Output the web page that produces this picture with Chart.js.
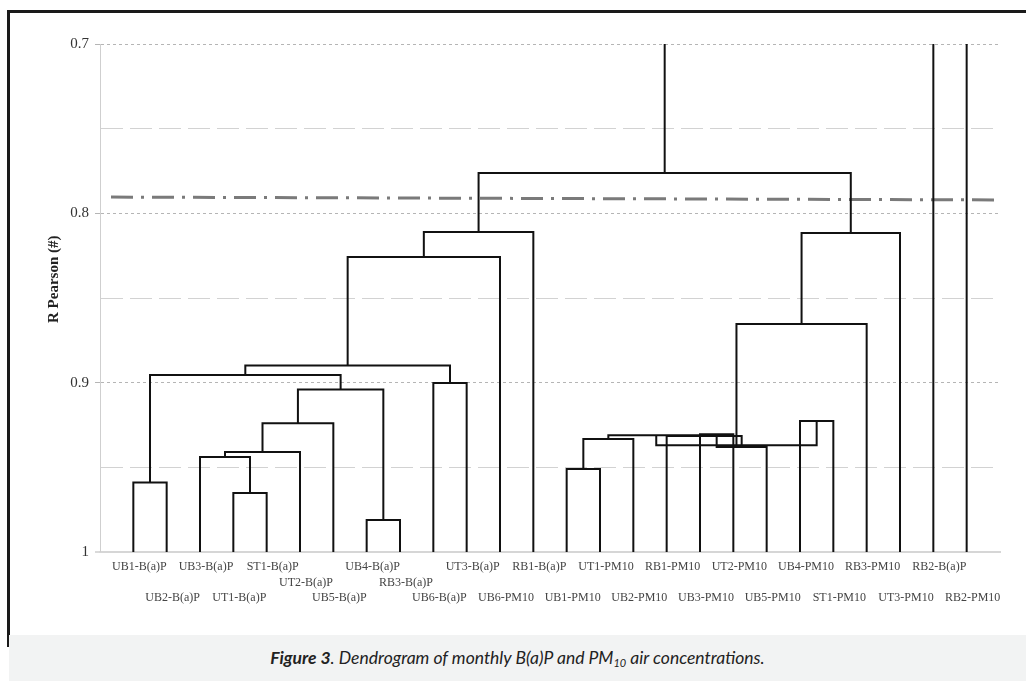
<!DOCTYPE html>
<html>
<head>
<meta charset="utf-8">
<script src="https://cdn.jsdelivr.net/npm/chart.js@4.4.0/dist/chart.umd.min.js"></script>
<style>
  html, body { margin: 0; padding: 0; background: #fff; }
  body { width: 1026px; height: 681px; position: relative; overflow: hidden; }
  #chart { position: absolute; left: 0; top: 0; }
  #frame { position: absolute; left: 7px; top: 10px; width: 1019px; height: 637px;
    border-top: 3px solid #1a1a1a; border-left: 3px solid #1a1a1a; box-sizing: border-box; }
  #caption { position: absolute; left: 9px; top: 635px; width: 1017px; height: 46px;
    background: #f2f3f3; color: #222; text-align: center;
    font: italic 17.5px Lato, "Open Sans", sans-serif; line-height: 46px; }
  #caption sub { font-size: 11px; line-height: 0; vertical-align: -3px; }
</style>
</head>
<body>
<canvas id="chart" width="1026" height="630"></canvas>
<div id="frame"></div>
<div id="caption"><b>Figure 3</b>. Dendrogram of monthly B(a)P and PM<sub>10</sub> air concentrations.</div>
<script>
const LEAVES = [
  "UB1-B(a)P", "UB2-B(a)P", "UB3-B(a)P", "UT1-B(a)P", "ST1-B(a)P", "UT2-B(a)P",
  "UB5-B(a)P", "UB4-B(a)P", "RB3-B(a)P", "UB6-B(a)P", "UT3-B(a)P", "UB6-PM10",
  "RB1-B(a)P", "UB1-PM10", "UT1-PM10", "UB2-PM10", "RB1-PM10", "UB3-PM10",
  "UT2-PM10", "UB5-PM10", "UB4-PM10", "ST1-PM10", "RB3-PM10", "UT3-PM10",
  "RB2-B(a)P", "RB2-PM10",
];

// merge k joins MERGE_LEFT[k] and MERGE_RIGHT[k] at MERGE_R[k]
// node ids: 0..25 are leaves, 26 + k is merge k
const MERGE_LEFT  = [0, 3, 2, 28, 29, 7, 30, 26, 9, 33, 35, 36, 13, 38, 17, 40, 16, 39, 20, 43, 45, 46, 37];
const MERGE_RIGHT = [1, 4, 27, 5, 6, 8, 31, 32, 10, 34, 11, 12, 14, 15, 18, 19, 41, 42, 21, 44, 22, 23, 47];
const MERGE_R = [
  0.959, 0.9652, 0.9439, 0.941, 0.9239, 0.9811, 0.9041, 0.8955, 0.9002, 0.8899, 0.8258, 0.811,
  0.951, 0.9333, 0.9304, 0.938, 0.9315, 0.931, 0.9227, 0.9369, 0.8654, 0.8116, 0.7762,
];

// dash-dot cut level (slightly sloped in the figure)
const CUT_X = [0.33, 27];
const CUT_R = [0.7904, 0.7921];

const Y_TICKS = [0.7, 0.8, 0.9, 1];
const Y_MIN = 0.7;
const Y_MAX = 1;

// label stagger rows under the axis (0 = first line, 2 = third line)
const LABEL_ROW = [0, 2, 0, 2, 0, 1, 2, 0, 1, 2, 0, 2, 0, 2, 0, 2, 0, 2, 0, 2, 0, 2, 0, 2, 0, 2];

const nodeX = LEAVES.map((_, i) => i + 1);
const nodeR = LEAVES.map(() => 1);
const hasParent = [];
const links = MERGE_R.map((r, k) => {
  const a = MERGE_LEFT[k];
  const b = MERGE_RIGHT[k];
  nodeX.push((nodeX[a] + nodeX[b]) / 2);
  nodeR.push(r);
  hasParent[a] = hasParent[b] = true;
  return [
    { x: nodeX[a], y: nodeR[a] },
    { x: nodeX[a], y: r },
    { x: nodeX[b], y: r },
    { x: nodeX[b], y: nodeR[b] },
  ];
});
// nodes not joined below 0.7 run up out of the plot
nodeX.forEach((x, i) => {
  if (!hasParent[i]) links.push([{ x, y: nodeR[i] }, { x, y: Y_MIN }]);
});

const datasets = links.map((pts) => ({
  data: pts,
  showLine: true,
  borderColor: "#111",
  borderWidth: 2,
  borderJoinStyle: "miter",
  pointRadius: 0,
  tension: 0,
}));
datasets.push({
  data: CUT_X.map((x, i) => ({ x, y: CUT_R[i] })),
  showLine: true,
  borderColor: "#7a7a7a",
  borderWidth: 3,
  borderDash: [22, 8, 3, 8],
  pointRadius: 0,
});

const isMajor = (v) => Y_TICKS.some((t) => Math.abs(t - v) < 1e-6);
const serif = "'Liberation Serif', 'Times New Roman', serif";

new Chart(document.getElementById("chart"), {
  type: "scatter",
  data: { datasets },
  options: {
    responsive: false,
    devicePixelRatio: 1,
    animation: false,
    layout: { padding: { top: 44, right: 26, left: 0, bottom: 0 } },
    plugins: { legend: { display: false }, tooltip: { enabled: false } },
    scales: {
      x: {
        type: "linear",
        min: 0,
        max: LEAVES.length + 1,
        grid: { display: false, drawTicks: false },
        border: { color: "#d6d6d6", width: 2 },
        ticks: {
          stepSize: 1,
          autoSkip: false,
          maxRotation: 0,
          padding: 7,
          labelOffset: 6,
          color: "#444",
          font: { family: serif, size: 12, lineHeight: 1.3 },
          callback: (v) => {
            const name = LEAVES[v - 1];
            if (!name) return "";
            const lines = ["", "", ""];
            lines[LABEL_ROW[v - 1]] = name;
            return lines;
          },
        },
        afterFit: (scale) => { scale.height = 78; },
      },
      y: {
        type: "linear",
        reverse: true,
        min: Y_MIN,
        max: Y_MAX,
        title: {
          display: true,
          text: " ".repeat(10) + "R Pearson (#)",
          color: "#222",
          font: { family: serif, size: 15, weight: "bold" },
          padding: { top: 45, bottom: 0 },
        },
        grid: {
          color: (c) => (c.tick && isMajor(c.tick.value) ? "#b5b5b5" : "#d2d2d2"),
          lineWidth: (c) => (c.tick && c.tick.value >= Y_MAX - 1e-6 ? 0 : 1),
          tickLength: 5,
          tickWidth: 1,
          tickColor: (c) => (c.tick && isMajor(c.tick.value) ? "#b5b5b5" : "rgba(0,0,0,0)"),
        },
        border: {
          color: "#cfcfcf",
          width: 1,
          dash: (c) => (c.tick ? (isMajor(c.tick.value) ? [3, 3] : [22, 7]) : []),
        },
        ticks: {
          stepSize: 0.05,
          padding: 6,
          color: "#333",
          font: { family: serif, size: 15 },
          callback: (v) => (isMajor(v) ? String(+v.toFixed(1)) : ""),
        },
        afterFit: (scale) => { scale.width = 100; },
      },
    },
  },
});
</script>
</body>
</html>
